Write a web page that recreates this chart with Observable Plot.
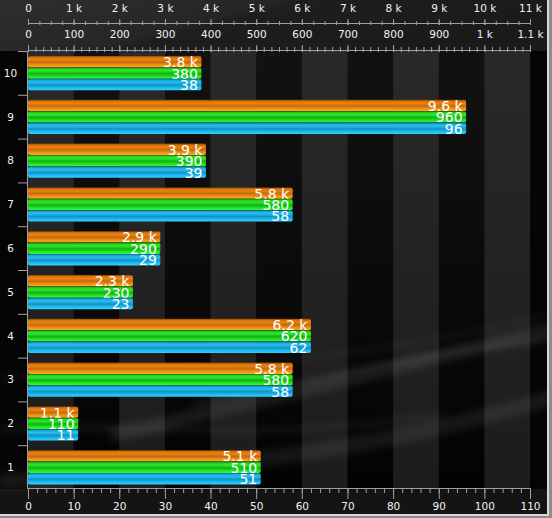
<!DOCTYPE html>
<html><head><meta charset="utf-8">
<script src="https://cdn.jsdelivr.net/npm/d3@7"></script>
<script src="https://cdn.jsdelivr.net/npm/@observablehq/plot@0.6"></script>
<style>html,body{margin:0;padding:0;background:#050505;} svg{display:block}</style>
</head><body><div id="chart"></div>
<script>
// ---- data ----
const categories = ["1","2","3","4","5","6","7","8","9","10"];
const blueValues = [51,11,58,62,23,29,58,39,96,38];
const greenValues = [510,110,580,620,230,290,580,390,960,380];
const orangeValues = [5100,1100,5800,6200,2300,2900,5800,3900,9600,3800];
const blueTicks = [0,10,20,30,40,50,60,70,80,90,100,110];
const blueTickLabels = ["0","10","20","30","40","50","60","70","80","90","100","110"];
const greenTickLabels = ["0","100","200","300","400","500","600","700","800","900","1 k","1.1 k"];
const orangeTickLabels = ["0","1 k","2 k","3 k","4 k","5 k","6 k","7 k","8 k","9 k","10 k","11 k"];
const stripeStarts = [0,20,40,60,80,100];

// ---- layout ----
const W = 552, H = 518;
const margin = {top: 51, right: 22, bottom: 29, left: 28};
const band = (H - margin.top - margin.bottom) / categories.length;
const groupPad = 5, barH = 11.4;
const topShift = -27;
const tickColor = "#a0a0a0", labelColor = "#f2f2f2";

const fmtK = v => v >= 1000 ? (v / 1000) + " k" : String(v);
const lab = arr => d => arr[blueTicks.indexOf(d)] ?? "";

const series = [
  {values: orangeValues, per: 100, grad: "gOrange"},
  {values: greenValues, per: 10, grad: "gGreen"},
  {values: blueValues, per: 1, grad: "gBlue"}
];

const barMarks = series.flatMap((s, k) => {
  const rows = categories.map((c, i) => ({cat: c, v: s.values[i], x: s.values[i] / s.per}));
  const top = groupPad + k * barH;
  const bottom = band - top - barH;
  const dy = top + barH / 2 - band / 2;
  return [
    Plot.barX(rows, {x: "x", y: "cat", fill: `url(#${s.grad})`, insetTop: top, insetBottom: bottom, rx: 2}),
    Plot.text(rows, {x: "x", y: "cat", text: d => fmtK(d.v), textAnchor: "end", dx: -4, dy: dy + 0.5, fill: "white", fontSize: 14})
  ];
});

const decorBack = (index, scales, values, dims) => {
  const {width, height, marginTop, marginBottom} = dims;
  const g = d3.create("svg:g");
  g.append("rect").attr("width", width).attr("height", marginTop).attr("fill", "url(#gTop)");
  g.append("rect").attr("y", height - marginBottom).attr("width", width).attr("height", marginBottom).attr("fill", "#141414");
  return g.node();
};

const swirls = (index, scales, values, dims) => {
  const {width: w, height: h} = dims;
  const g = d3.create("svg:g").attr("fill", "none").attr("stroke", "white").attr("filter", "url(#blur)");
  const curves = [
    [`M ${0.2*w},${0.84*h} C ${0.5*w},${0.77*h} ${0.75*w},${0.70*h} ${1.02*w},${0.63*h}`, 14, 0.075],
    [`M ${0.35*w},${0.78*h} C ${0.6*w},${0.73*h} ${0.8*w},${0.67*h} ${1.02*w},${0.655*h}`, 5, 0.07],
    [`M ${0.0*w},${0.93*h} C ${0.35*w},${0.91*h} ${0.7*w},${0.87*h} ${1.02*w},${0.76*h}`, 16, 0.065],
    [`M ${0.0*w},${0.83*h} C ${0.2*w},${0.81*h} ${0.45*w},${0.86*h} ${0.8*w},${0.80*h}`, 6, 0.05],
    [`M ${0.0*w},${0.73*h} C ${0.3*w},${0.70*h} ${0.6*w},${0.72*h} ${1.02*w},${0.60*h}`, 4, 0.045]
  ];
  for (const [d, sw, op] of curves) g.append("path").attr("d", d).attr("stroke-width", sw).attr("stroke-opacity", op);
  return g.node();
};

const axisLines = (index, scales, values, dims) => {
  const x = scales.x;
  const x0 = x(0), x1 = x(110);
  const yTop = dims.marginTop, yBot = dims.height - dims.marginBottom;
  const g = d3.create("svg:g").attr("stroke", tickColor).attr("fill", "none");
  for (const y of [yTop + topShift, yTop, yBot]) {
    g.append("line").attr("x1", x0).attr("x2", x1 + 1).attr("y1", y - 0.5).attr("y2", y - 0.5);
  }
  g.append("line").attr("x1", x0 - 0.5).attr("x2", x0 - 0.5).attr("y1", yTop).attr("y2", yBot);
  return g.node();
};

const border = (index, scales, values, dims) => {
  const {width: w, height: h} = dims;
  const g = d3.create("svg:g");
  g.append("rect").attr("x", w - 3).attr("y", 0).attr("width", 3).attr("height", h).attr("fill", "#8c8c8c");
  g.append("rect").attr("x", 0).attr("y", h - 2).attr("width", w).attr("height", 2).attr("fill", "#8c8c8c");
  g.append("rect").attr("x", w - 5).attr("y", 0).attr("width", 2).attr("height", h - 2).attr("fill", "#d8d8d8");
  g.append("rect").attr("x", 0).attr("y", h - 4).attr("width", w - 3).attr("height", 2).attr("fill", "#d8d8d8");
  return g.node();
};

const tickAxis = (ticks, anchor, size, extra = {}) =>
  Plot.axisX(ticks, {anchor, tickSize: size, fill: "none", stroke: tickColor, label: null, ...extra});
const labelAxis = (labels, anchor, pad, extra = {}) =>
  Plot.axisX(blueTicks, {anchor, tickSize: 0, tickPadding: pad, tickFormat: lab(labels), fill: labelColor, label: null, ...extra});

const svg = Plot.plot({
  width: W, height: H,
  marginTop: margin.top, marginRight: margin.right, marginBottom: margin.bottom, marginLeft: margin.left,
  style: {background: "#050505", color: labelColor, fontFamily: "'DejaVu Sans', sans-serif", fontSize: "10.5px", overflow: "visible"},
  x: {domain: [0, 110], label: null},
  y: {domain: categories.slice().reverse(), padding: 0, round: false, label: null},
  marks: [
    decorBack,
    Plot.frame({fill: "url(#gFrame)", stroke: "none"}),
    Plot.rect(stripeStarts, {x1: d => d, x2: d => d + 10, fill: "url(#gStripe)"}),
    swirls,
    // orange axis (top, outer)
    tickAxis(blueTicks, "top", 6, {dy: topShift}),
    tickAxis(d3.range(0, 110.001, 2.5), "top", 4, {dy: topShift}),
    labelAxis(orangeTickLabels, "top", 13, {dy: topShift}),
    // green axis (top, inner)
    tickAxis(blueTicks, "top", 7),
    tickAxis(d3.range(0, 110.001, 10 / 6), "top", 5),
    labelAxis(greenTickLabels, "top", 14),
    // blue axis (bottom)
    tickAxis(blueTicks, "bottom", 10),
    tickAxis(d3.range(0, 110.001, 2), "bottom", 4),
    labelAxis(blueTickLabels, "bottom", 13),
    // category axis
    Plot.axisY({anchor: "left", tickSize: 10, fill: "none", dy: -band / 2, stroke: tickColor, label: null}),
    Plot.axisY({anchor: "left", tickSize: 0, tickPadding: 18, textAnchor: "middle", fill: labelColor, label: null}),
    axisLines,
    ...barMarks,
    border
  ]
});

const defs = d3.select(svg).insert("defs", ":first-child");
function grad(id, stops, dir = [0, 0, 0, 1]) {
  const lg = defs.append("linearGradient").attr("id", id)
    .attr("x1", dir[0]).attr("y1", dir[1]).attr("x2", dir[2]).attr("y2", dir[3]);
  for (const [o, c] of stops) lg.append("stop").attr("offset", o).attr("stop-color", c);
}
grad("gOrange", [[0, "#8a4200"], [0.12, "#d46f0c"], [0.3, "#e88410"], [0.55, "#c86a0c"], [0.8, "#f59515"], [1, "#fba520"]]);
grad("gGreen", [[0, "#087008"], [0.12, "#1fd01f"], [0.3, "#2ee82e"], [0.55, "#12b012"], [0.8, "#22e622"], [1, "#3cf53c"]]);
grad("gBlue", [[0, "#075f8c"], [0.12, "#1aa8dc"], [0.3, "#28bdf0"], [0.55, "#1292c6"], [0.8, "#1cbff0"], [1, "#32cffa"]]);
grad("gStripe", [[0, "#292929"], [1, "#1c1c1c"]]);
grad("gFrame", [[0, "#121212"], [1, "#030303"]]);
grad("gTop", [[0, "#2e2e2e"], [0.45, "#262626"], [0.5, "#1e1e1e"], [1, "#1a1a1a"]], [0, 0, 1, 0.35]);
defs.append("filter").attr("id", "blur").attr("x", "-10%").attr("y", "-50%").attr("width", "120%").attr("height", "200%")
  .append("feGaussianBlur").attr("stdDeviation", 3);

document.getElementById("chart").appendChild(svg);
</script>
</body></html>
